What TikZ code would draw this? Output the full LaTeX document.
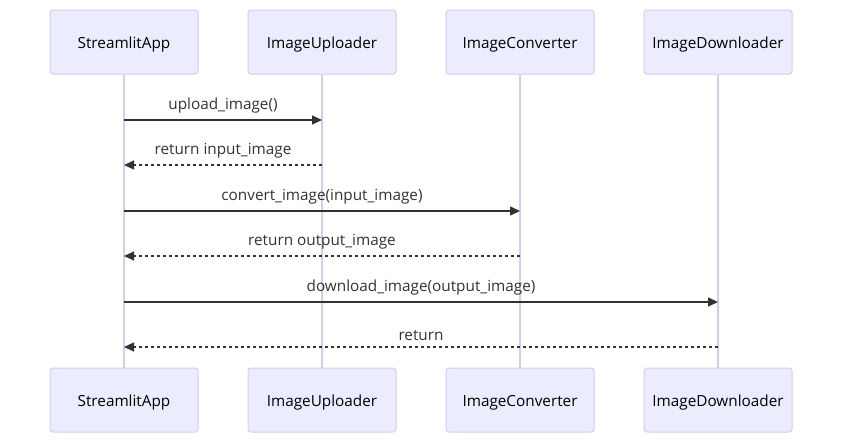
\documentclass[tikz,border=0pt]{standalone}
\usepackage{fontspec}
\setmainfont{Open Sans}
\usetikzlibrary{arrows.meta}
\definecolor{actorfill}{HTML}{ECECFF}
\definecolor{actorline}{HTML}{D5CCF4}
\definecolor{msgline}{HTML}{333333}

\begin{document}
\begin{tikzpicture}[x=1pt, y=-1pt,
  actor/.style={draw=actorline, fill=actorfill, line width=1pt, rounded corners=3pt,
    minimum width=148pt, minimum height=64pt, inner sep=0pt, text height=12.4pt, text depth=0pt,
    font=\fontsize{15.3}{18}\selectfont},
  life/.style={draw=actorline, line width=1.2pt},
  msg/.style={draw=msgline, line width=1.4pt, -{Triangle[length=10pt,width=9pt]}},
  reply/.style={msg, line width=1.2pt, dash pattern=on 3pt off 3pt},
  lbl/.style={font=\fontsize{15.3}{18}\selectfont, text=msgline, inner sep=0pt, above=6pt}]
  \useasboundingbox (0,0) rectangle (850,447);

  % participants, top and bottom
  \node[actor] (app)  at (124,42)  {StreamlitApp};
  \node[actor] (upl)  at (322,42)  {ImageUploader};
  \node[actor] (conv) at (520,42)  {ImageConverter};
  \node[actor] (down) at (718,42)  {ImageDownloader};
  \node[actor] (app2)  at (124,400) {StreamlitApp};
  \node[actor] (upl2)  at (322,400) {ImageUploader};
  \node[actor] (conv2) at (520,400) {ImageConverter};
  \node[actor] (down2) at (718,400) {ImageDownloader};

  % lifelines
  \draw[life] (app) -- (app2);
  \draw[life] (upl) -- (upl2);
  \draw[life] (conv) -- (conv2);
  \draw[life] (down) -- (down2);

  % message ends on the lifelines
  \coordinate (a1) at (124,120); \coordinate (u1) at (322,120);
  \coordinate (a2) at (124,165); \coordinate (u2) at (322,165);
  \coordinate (a3) at (124,211); \coordinate (c3) at (520,211);
  \coordinate (a4) at (124,256); \coordinate (c4) at (520,256);
  \coordinate (a5) at (124,302); \coordinate (d5) at (718,302);
  \coordinate (a6) at (124,347); \coordinate (d6) at (718,347);

  \draw[msg] (a1) -- node[lbl] {upload\_image()} (u1);
  \draw[reply] (u2) -- node[lbl] {return input\_image} (a2);
  \draw[msg] (a3) -- node[lbl] {convert\_image(input\_image)} (c3);
  \draw[reply] (c4) -- node[lbl] {return output\_image} (a4);
  \draw[msg] (a5) -- node[lbl] {download\_image(output\_image)} (d5);
  \draw[reply] (d6) -- node[lbl] {return} (a6);
\end{tikzpicture}
\end{document}
